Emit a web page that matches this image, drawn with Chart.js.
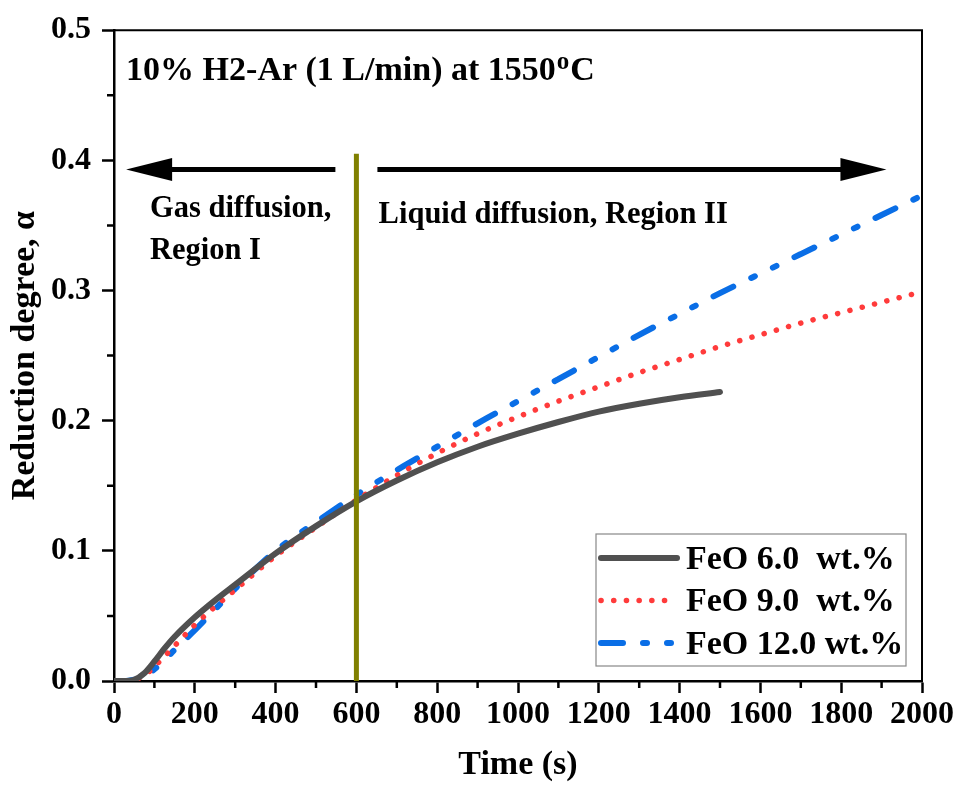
<!DOCTYPE html>
<html>
<head>
<meta charset="utf-8">
<script src="https://cdn.jsdelivr.net/npm/chart.js@4.4.0/dist/chart.umd.min.js"></script>
<style>
  body { margin: 0; background: #fff; }
  canvas { display: block; }
</style>
</head>
<body>
<canvas id="chart" width="959" height="789"></canvas>
<script>
// time (s) and reduction degree values
var time6   = [0, 25, 50, 75, 100, 125, 150, 200, 250, 300, 400, 500, 600, 700, 800, 900, 1000, 1100, 1200, 1300, 1400, 1500];
var alpha6  = [0, 0.000, 0.001, 0.006, 0.015, 0.025, 0.034, 0.049, 0.062, 0.074, 0.098, 0.119, 0.138, 0.154, 0.168, 0.180, 0.190, 0.199, 0.207, 0.213, 0.218, 0.222];

var time9   = [0, 25, 50, 75, 100, 125, 150, 200, 250, 300, 400, 500, 600, 700, 800, 900, 1000, 1100, 1200, 1300, 1400, 1500, 1600, 1700, 1800, 1900, 2000];
var alpha9  = [0, 0.000, 0.001, 0.004, 0.011, 0.019, 0.027, 0.043, 0.057, 0.070, 0.096, 0.118, 0.139, 0.158, 0.175, 0.190, 0.203, 0.215, 0.226, 0.237, 0.247, 0.257, 0.266, 0.275, 0.283, 0.291, 0.299];

var time12  = [0, 25, 50, 75, 100, 125, 150, 200, 250, 300, 400, 500, 600, 700, 800, 900, 1000, 1100, 1200, 1300, 1400, 1500, 1600, 1700, 1800, 1900, 2000];
var alpha12 = [0, 0.000, 0.001, 0.003, 0.009, 0.016, 0.024, 0.039, 0.055, 0.071, 0.100, 0.122, 0.143, 0.162, 0.180, 0.198, 0.215, 0.232, 0.249, 0.266, 0.282, 0.298, 0.313, 0.328, 0.343, 0.358, 0.373];

var seriesNames = ['FeO 6.0  wt.%', 'FeO 9.0  wt.%', 'FeO 12.0 wt.%'];
var xTicksMinor = [100, 300, 500, 700, 900, 1100, 1300, 1500, 1700, 1900];
var yTicksMinor = [0.05, 0.15, 0.25, 0.35, 0.45];

const FONT = '"Liberation Serif", "Times New Roman", serif';

function pts(xs, ys) {
    return xs.map((x, i) => ({x: x, y: ys[i]}));
}

////////////////////////////////////////////////////////////////////////////////

function arrow(ctx, x0, x1, y) {
    // line from x0 to the tip at x1
    var dir = x1 > x0 ? 1 : -1;
    var headLen = 46, headHalf = 11.5;
    ctx.save();
    ctx.strokeStyle = '#000';
    ctx.fillStyle = '#000';
    ctx.lineWidth = 5;
    ctx.beginPath();
    ctx.moveTo(x0, y);
    ctx.lineTo(x1 - dir * (headLen - 2), y);
    ctx.stroke();
    ctx.beginPath();
    ctx.moveTo(x1, y);
    ctx.lineTo(x1 - dir * headLen, y - headHalf);
    ctx.lineTo(x1 - dir * headLen, y + headHalf);
    ctx.closePath();
    ctx.fill();
    ctx.restore();
}

const decor = {
    id: 'decor',
    afterDatasetsDraw(chart) {
        const ctx = chart.ctx;
        const a = chart.chartArea;
        const xs = chart.scales.x, ys = chart.scales.y;

        // top and right frame
        ctx.save();
        ctx.strokeStyle = '#000';
        ctx.lineWidth = 2;
        ctx.beginPath();
        ctx.moveTo(a.left, a.top);
        ctx.lineTo(a.right, a.top);
        ctx.lineTo(a.right, a.bottom);
        ctx.stroke();

        // minor ticks
        ctx.lineWidth = 2.5;
        ctx.beginPath();
        xTicksMinor.forEach(v => {
            var px = xs.getPixelForValue(v);
            ctx.moveTo(px, a.bottom);
            ctx.lineTo(px, a.bottom + 7);
        });
        yTicksMinor.forEach(v => {
            var py = ys.getPixelForValue(v);
            ctx.moveTo(a.left - 7, py);
            ctx.lineTo(a.left, py);
        });
        ctx.stroke();

        // vertical line at 600 s
        ctx.strokeStyle = '#808000';
        ctx.lineWidth = 5;
        ctx.beginPath();
        ctx.moveTo(xs.getPixelForValue(600), ys.getPixelForValue(0));
        ctx.lineTo(xs.getPixelForValue(600), ys.getPixelForValue(0.405));
        ctx.stroke();
        ctx.restore();

        // arrows
        var ay = ys.getPixelForValue(0.393);
        arrow(ctx, xs.getPixelForValue(548), xs.getPixelForValue(30), ay);
        arrow(ctx, xs.getPixelForValue(652), xs.getPixelForValue(1912), ay);

        // texts
        ctx.save();
        ctx.fillStyle = '#000';
        ctx.textBaseline = 'alphabetic';
        ctx.textAlign = 'left';
        ctx.font = 'bold 34px ' + FONT;
        var tx = xs.getPixelForValue(30), ty = ys.getPixelForValue(0.4615);
        var s1 = '10% H2-Ar (1 L/min) at 1550';
        ctx.fillText(s1, tx, ty);
        tx += ctx.measureText(s1).width + 1;
        ctx.font = 'bold 25px ' + FONT;
        ctx.fillText('o', tx, ty - 11);
        tx += ctx.measureText('o').width + 1;
        ctx.font = 'bold 34px ' + FONT;
        ctx.fillText('C', tx, ty);

        ctx.font = 'bold 30.5px ' + FONT;
        ctx.fillText('Gas diffusion,', xs.getPixelForValue(89), ys.getPixelForValue(0.3564));
        ctx.fillText('Region I', xs.getPixelForValue(89), ys.getPixelForValue(0.3244));
        ctx.fillText('Liquid diffusion, Region II', xs.getPixelForValue(655), ys.getPixelForValue(0.352));
        ctx.restore();

        // legend box
        var lx = a.right - 326, ly = a.bottom - 147, lw = 310, lh = 132;
        ctx.save();
        ctx.fillStyle = '#fff';
        ctx.fillRect(lx, ly, lw, lh);
        ctx.strokeStyle = '#888';
        ctx.lineWidth = 1.2;
        ctx.strokeRect(lx, ly, lw, lh);
        chart.data.datasets.forEach((ds, i) => {
            var yy = ly + 24 + i * 42.5;
            ctx.save();
            ctx.strokeStyle = ds.borderColor;
            ctx.lineWidth = ds.borderWidth;
            ctx.lineCap = 'round';
            ctx.setLineDash(ds.borderDash || []);
            ctx.beginPath();
            ctx.moveTo(lx + 5, yy);
            ctx.lineTo(lx + 81, yy);
            ctx.stroke();
            ctx.restore();
            ctx.fillStyle = '#000';
            ctx.font = 'bold 34px ' + FONT;
            ctx.textBaseline = 'middle';
            ctx.fillText(ds.label, lx + 90, yy + 2);
        });
        ctx.restore();
    }
};

////////////////////////////////////////////////////////////////////////////////

document.addEventListener('DOMContentLoaded', function() {

    const data = {
        datasets: [{
            label: seriesNames[0],
            data: pts(time6, alpha6),
            borderColor: '#505050',
            borderWidth: 6,
            borderCapStyle: 'round'
        }, {
            label: seriesNames[1],
            data: pts(time9, alpha9),
            borderColor: '#ff3b3b',
            borderWidth: 5.5,
            borderDash: [0.1, 12.6],
            borderCapStyle: 'round'
        }, {
            label: seriesNames[2],
            data: pts(time12, alpha12),
            borderColor: '#0a6ee6',
            borderWidth: 6,
            borderDash: [22, 20, 4, 20, 4, 20],
            borderCapStyle: 'round'
        }]
    };

    const config = {
        type: 'line',
        data: data,
        options: {
            responsive: false,
            animation: false,
            layout: { padding: { top: 26, right: 37, left: 0, bottom: 0 } },
            elements: {
                point: { radius: 0 },
                line: { cubicInterpolationMode: 'monotone', fill: false }
            },
            plugins: {
                legend: { display: false },
                tooltip: { enabled: false }
            },
            scales: {
                x: {
                    type: 'linear',
                    min: 0,
                    max: 2000,
                    afterFit: s => { s.height = 108; },
                    border: { display: true, color: '#000', width: 2.5 },
                    grid: { drawOnChartArea: false, drawTicks: true, tickLength: 12, tickWidth: 2.5, tickColor: '#000' },
                    ticks: {
                        stepSize: 200,
                        color: '#000',
                        padding: 3,
                        maxRotation: 0,
                        callback: v => String(v),
                        font: { family: FONT, size: 32, weight: 'bold' }
                    },
                    title: {
                        display: true,
                        text: 'Time (s)',
                        color: '#000',
                        padding: { top: 0, bottom: 3 },
                        font: { family: FONT, size: 34, weight: 'bold' }
                    }
                },
                y: {
                    min: 0,
                    max: 0.5,
                    afterFit: s => { s.width = 114; },
                    border: { display: true, color: '#000', width: 2.5 },
                    grid: { drawOnChartArea: false, drawTicks: true, tickLength: 12, tickWidth: 2.5, tickColor: '#000' },
                    ticks: {
                        stepSize: 0.1,
                        color: '#000',
                        padding: 11,
                        callback: v => v.toFixed(1),
                        font: { family: FONT, size: 32, weight: 'bold' }
                    },
                    title: {
                        display: true,
                        text: 'Reduction degree, α',
                        color: '#000',
                        padding: { top: 5, bottom: 0 },
                        font: { family: FONT, size: 34, weight: 'bold' }
                    }
                }
            }
        },
        plugins: [decor]
    };

    const chart = new Chart(document.getElementById('chart'), config);
});
</script>
</body>
</html>
